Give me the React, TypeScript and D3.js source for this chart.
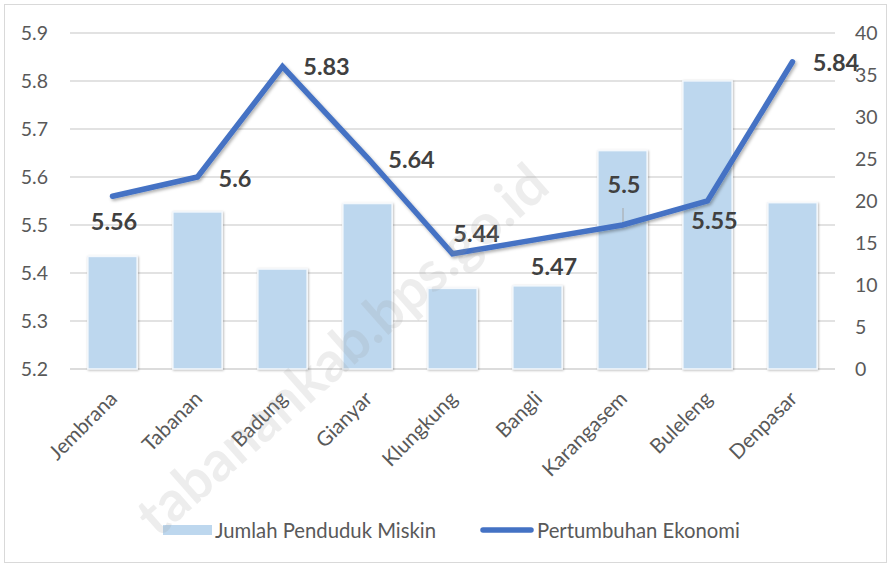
import React from "react";
import * as d3 from "d3";

const categories = ["Jembrana", "Tabanan", "Badung", "Gianyar", "Klungkung", "Bangli", "Karangasem", "Buleleng", "Denpasar"];
const jumlahPendudukMiskin = [13.4, 18.7, 11.9, 19.7, 9.6, 9.9, 26.0, 34.3, 19.8];
const pertumbuhanEkonomi = [5.56, 5.6, 5.83, 5.64, 5.44, 5.47, 5.5, 5.55, 5.84];
const leftTicks = [5.2, 5.3, 5.4, 5.5, 5.6, 5.7, 5.8, 5.9];
const rightTicks = [0, 5, 10, 15, 20, 25, 30, 35, 40];
const seriesNames = ["Jumlah Penduduk Miskin", "Pertumbuhan Ekonomi"];

// label placement offsets (layout only), relative to each line point
const labelOffsets: [number, number][] = [
  [1.5, 34], [37.5, 10], [44, 8.5], [44, 10], [24, -12], [16.5, 35.6], [1.5, -32], [7, 28], [43.5, 9],
];

const W = 891;
const H = 567;
const FONT = "Lato, 'Open Sans', sans-serif";

export default function App() {
  const x = d3.scaleBand<string>().domain(categories).range([70, 835]).paddingInner(0.42).paddingOuter(0.21);
  const yL = d3.scaleLinear().domain([5.2, 5.9]).range([369, 33]);
  const yR = d3.scaleLinear().domain([0, 40]).range([369, 33]);
  const cx = (c: string) => (x(c) as number) + x.bandwidth() / 2;

  const line = d3
    .line<number>()
    .x((_, i) => cx(categories[i]))
    .y((d) => yL(d));

  return (
    <svg width={W} height={H} style={{ position: "absolute", left: 0, top: 0, background: "#fff" }} fontFamily={FONT}>
      <defs>
        <filter id="lineShadow" x="-10%" y="-10%" width="120%" height="130%">
          <feDropShadow dx="1.5" dy="2" stdDeviation="1.5" floodColor="#000" floodOpacity="0.3" />
        </filter>
        <filter id="barShadow" x="-20%" y="-10%" width="140%" height="120%">
          <feDropShadow dx="0.8" dy="0.8" stdDeviation="1" floodColor="#000" floodOpacity="0.28" />
        </filter>
      </defs>
      <rect x={0} y={0} width={W} height={H} fill="#fff" />
      <rect x={4.5} y={4.5} width={882} height={558} fill="none" stroke="#D9D9D9" strokeWidth={1} />

      {/* gridlines */}
      {leftTicks.map((t) => (
        <line key={t} x1={70} x2={835} y1={yL(t)} y2={yL(t)} stroke={t === 5.2 ? "#D0D0D0" : "#D9D9D9"} strokeWidth={1.3} />
      ))}

      {/* left axis labels */}
      {leftTicks.map((t) => (
        <text key={"l" + t} x={48} y={yL(t)} dy="0.36em" textAnchor="end" fontSize={19.5} fill="#595959">
          {d3.format(".1f")(t)}
        </text>
      ))}
      {/* right axis labels */}
      {rightTicks.map((t) => (
        <text key={"r" + t} x={855} y={yR(t)} dy="0.36em" textAnchor="start" fontSize={19.5} fill="#595959">
          {t}
        </text>
      ))}

      {/* bars */}
      {categories.map((c, i) => (
        <rect
          key={c}
          x={x(c)}
          y={yR(jumlahPendudukMiskin[i])}
          width={x.bandwidth()}
          height={yR(0) - yR(jumlahPendudukMiskin[i])}
          fill="#BDD7EE"
          stroke="#F4F8FC"
          strokeWidth={1.5}
          filter="url(#barShadow)"
        />
      ))}

      {/* line */}
      <path
        d={line(pertumbuhanEkonomi) || ""}
        fill="none"
        stroke="#4472C4"
        strokeWidth={5.5}
        strokeLinejoin="miter"
        strokeLinecap="round"
        filter="url(#lineShadow)"
      />

      {/* leader line for Karangasem */}
      <line
        x1={cx(categories[6]) + 0.5}
        x2={cx(categories[6]) + 0.5}
        y1={yL(pertumbuhanEkonomi[6]) - 17}
        y2={yL(pertumbuhanEkonomi[6]) - 3}
        stroke="#A6A6A6"
        strokeWidth={1}
      />

      {/* data labels */}
      {categories.map((c, i) => (
        <text
          key={"d" + c}
          x={cx(c) + labelOffsets[i][0]}
          y={yL(pertumbuhanEkonomi[i]) + labelOffsets[i][1]}
          textAnchor="middle"
          fontSize={23.5}
          fontWeight="bold"
          fill="#404040"
        >
          {String(pertumbuhanEkonomi[i])}
        </text>
      ))}

      {/* x labels */}
      {categories.map((c) => (
        <text
          key={"x" + c}
          transform={`translate(${cx(c) + 6},${400}) rotate(-45)`}
          textAnchor="end"
          fontSize={20.5}
          fill="#595959"
        >
          {c}
        </text>
      ))}

      {/* legend */}
      <rect x={163} y={525} width={49} height={10} fill="#BDD7EE" />
      <text x={215} y={537.5} fontSize={20.3} fill="#595959">
        {seriesNames[0]}
      </text>
      <line x1={483} x2={531} y1={530} y2={530} stroke="#4472C4" strokeWidth={5.5} strokeLinecap="round" />
      <text x={537} y={537.5} fontSize={20.3} fill="#595959">
        {seriesNames[1]}
      </text>

      {/* watermark */}
      <text
        transform="translate(552,190) rotate(-41.5)"
        textAnchor="end"
        fontSize={56}
        fontWeight="bold"
        fill="#9a9a9a"
        opacity={0.17}
      >
        tabanankab.bps.go.id
      </text>
    </svg>
  );
}
